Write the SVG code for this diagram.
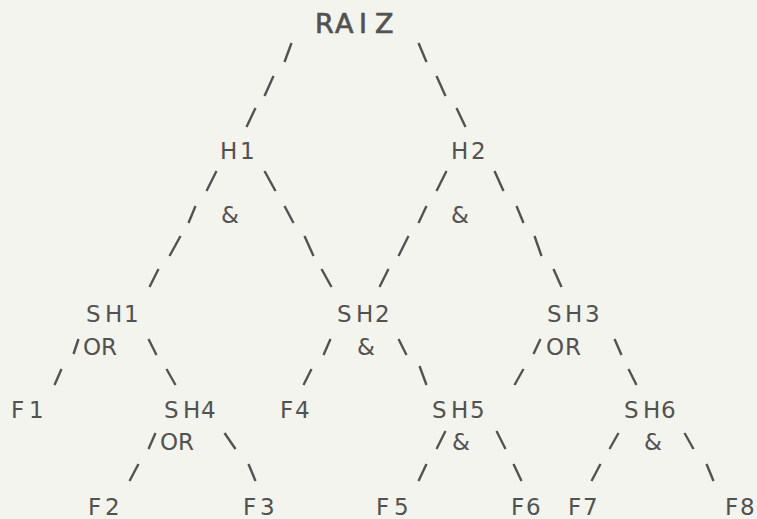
<svg xmlns="http://www.w3.org/2000/svg" width="757" height="519" viewBox="0 0 757 519">
<style>
text{font-family:"DejaVu Sans","Liberation Sans",sans-serif;font-size:23px;fill:#525252}
.root{font-size:27px;stroke:#525252;stroke-width:0.7}
#connectors line{stroke:#525252;stroke-width:2.4}
</style>
<rect width="757" height="519" fill="#f4f4ee"/>
<g id="connectors">
<line x1="284.5" y1="62" x2="291.5" y2="43"/>
<line x1="418.5" y1="43" x2="426.5" y2="62"/>
<line x1="264.5" y1="96" x2="273.5" y2="76"/>
<line x1="436.5" y1="76" x2="445.5" y2="96"/>
<line x1="246.5" y1="127" x2="255.5" y2="108"/>
<line x1="456.5" y1="108" x2="465.5" y2="127"/>
<line x1="206.5" y1="191" x2="216.5" y2="171"/>
<line x1="264.5" y1="171" x2="275.5" y2="191"/>
<line x1="436.5" y1="191" x2="446.5" y2="171"/>
<line x1="494.5" y1="171" x2="503.5" y2="191"/>
<line x1="188.5" y1="223" x2="195.5" y2="206"/>
<line x1="284.5" y1="206" x2="293.5" y2="223"/>
<line x1="418.5" y1="223" x2="426.5" y2="206"/>
<line x1="516.5" y1="206" x2="523.5" y2="223"/>
<line x1="169.5" y1="256" x2="180.5" y2="236"/>
<line x1="304.5" y1="236" x2="313.5" y2="256"/>
<line x1="398.5" y1="256" x2="408.5" y2="236"/>
<line x1="534.5" y1="236" x2="541.5" y2="256"/>
<line x1="149.5" y1="287" x2="158.5" y2="269"/>
<line x1="321.5" y1="269" x2="331.5" y2="287"/>
<line x1="379.5" y1="287" x2="388.5" y2="269"/>
<line x1="553.5" y1="269" x2="561.5" y2="287"/>
<line x1="73.5" y1="354" x2="78.5" y2="339"/>
<line x1="148.5" y1="339" x2="156.5" y2="355"/>
<line x1="323.5" y1="355" x2="330.5" y2="339"/>
<line x1="398.5" y1="339" x2="406.5" y2="355"/>
<line x1="533.5" y1="354" x2="540.5" y2="339"/>
<line x1="614.5" y1="339" x2="621.5" y2="355"/>
<line x1="54.5" y1="385" x2="61.5" y2="369"/>
<line x1="166.5" y1="369" x2="175.5" y2="385"/>
<line x1="303.5" y1="385" x2="311.5" y2="369"/>
<line x1="419.5" y1="366" x2="426.5" y2="385"/>
<line x1="514.5" y1="385" x2="523.5" y2="369"/>
<line x1="628.5" y1="369" x2="636.5" y2="385"/>
<line x1="148.5" y1="449" x2="155.5" y2="433"/>
<line x1="224.5" y1="433" x2="235.5" y2="449"/>
<line x1="436.5" y1="449" x2="445.5" y2="431"/>
<line x1="496.5" y1="431" x2="505.5" y2="449"/>
<line x1="609.5" y1="449" x2="618.5" y2="433"/>
<line x1="684.5" y1="433" x2="693.5" y2="449"/>
<line x1="129.5" y1="481" x2="138.5" y2="464"/>
<line x1="248.5" y1="464" x2="255.5" y2="481"/>
<line x1="418.5" y1="481" x2="426.5" y2="464"/>
<line x1="513.5" y1="464" x2="521.5" y2="481"/>
<line x1="591.5" y1="481" x2="600.5" y2="464"/>
<line x1="706.5" y1="464" x2="713.5" y2="481"/>
</g>
<g id="RAIZ"><text class="root" x="315 335 359 375" y="33">RAIZ</text></g>
<g id="H1"><text x="220 240" y="159">H1</text><text x="221" y="223">&amp;</text></g>
<g id="H2"><text x="451 471" y="159">H2</text><text x="451" y="223">&amp;</text></g>
<g id="SH1"><text x="86 105 124" y="322">SH1</text><text x="83 101" y="355">OR</text></g>
<g id="SH2"><text x="337 356 375" y="322">SH2</text><text x="357" y="355">&amp;</text></g>
<g id="SH3"><text x="547 565 585" y="322">SH3</text><text x="546 565" y="355">OR</text></g>
<g id="SH4"><text x="164 183 201" y="418">SH4</text><text x="160 178" y="450">OR</text></g>
<g id="SH5"><text x="432 451 470" y="418">SH5</text><text x="452" y="450">&amp;</text></g>
<g id="SH6"><text x="624 643 661" y="418">SH6</text><text x="644" y="450">&amp;</text></g>
<g id="F1"><text x="11 29" y="418">F1</text></g>
<g id="F4"><text x="280 295" y="418">F4</text></g>
<g id="F2"><text x="88 105" y="515">F2</text></g>
<g id="F3"><text x="243 260" y="515">F3</text></g>
<g id="F5"><text x="376 394" y="515">F5</text></g>
<g id="F6"><text x="511 526" y="515">F6</text></g>
<g id="F7"><text x="568 583" y="515">F7</text></g>
<g id="F8"><text x="725 740" y="515">F8</text></g>
</svg>
